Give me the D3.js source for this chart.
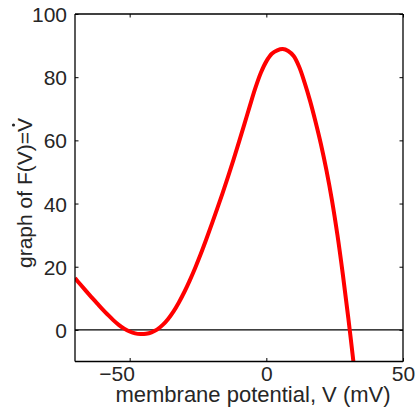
<!DOCTYPE html>
<html>
<head>
<meta charset="utf-8">
<script src="https://cdn.jsdelivr.net/npm/d3@7"></script>
<style>
  html, body { margin: 0; padding: 0; background: #fff; }
  svg { display: block; }
  text { font-family: "Liberation Sans", Arial, Helvetica, sans-serif; fill: #262626; }
</style>
</head>
<body>
<div id="chart"></div>
<script>
// ---- data ----
const voltage = [-70, -68, -66, -64, -62, -60, -58, -56, -54, -52, -50, -48, -46, -44, -42, -40,
  -38, -36, -34, -32, -30, -28, -26, -24, -22, -20, -18, -16, -14, -12, -10, -8, -6, -4, -2,
  0, 2, 4, 6, 8, 10, 12, 14, 16, 18, 20, 22, 24, 26, 28, 30, 32];
const fValue = [16.4, 14.35, 12.35, 10.4, 8.5, 6.6, 4.8, 3.1, 1.6, 0.4, -0.5, -1.1, -1.3, -1.2, -0.75, 0.1,
  1.5, 3.4, 5.8, 8.7, 12.0, 15.7, 19.7, 24.0, 28.6, 33.4, 38.3, 43.3, 48.5, 53.9, 59.5, 65.2, 71.0, 76.6, 81.4,
  85.0, 87.4, 88.5, 88.9, 88.3, 86.7, 83.3, 78.3, 72.5, 65.9, 58.7, 50.5, 41.1, 30.1, 17.5, 3.7, -11.1];
const xTicks = [-50, 0, 50];
const yTicks = [0, 20, 40, 60, 80, 100];
const xDomain = [-70, 50];
const yDomain = [-10, 100];
const xLabel = "membrane potential, V (mV)";
const yLabel = "graph of F(V)=V";

const W = 418, H = 408;
const m = { left: 75, top: 14, right: 15, bottom: 46.5 };

const svg = d3.select("#chart").append("svg").attr("width", W).attr("height", H);

const x = d3.scaleLinear().domain(xDomain).range([m.left, W - m.right]);
const y = d3.scaleLinear().domain(yDomain).range([H - m.bottom, m.top]);

svg.append("clipPath").attr("id", "clip")
  .append("rect")
  .attr("x", m.left).attr("y", m.top)
  .attr("width", W - m.left - m.right).attr("height", H - m.top - m.bottom);

// zero line
svg.append("line")
  .attr("x1", x(xDomain[0])).attr("x2", x(xDomain[1]))
  .attr("y1", y(0)).attr("y2", y(0))
  .attr("stroke", "#000").attr("stroke-width", 1.3);

// curve
const pts = voltage.map((v, i) => [v, fValue[i]]);
svg.append("path")
  .datum(pts)
  .attr("clip-path", "url(#clip)")
  .attr("fill", "none")
  .attr("stroke", "#ff0000")
  .attr("stroke-width", 4)
  .attr("stroke-linejoin", "round")
  .attr("d", d3.line().x(d => x(d[0])).y(d => y(d[1])).curve(d3.curveCatmullRom.alpha(0.5)));

// axes (inward ticks, mirrored box)
const tl = 3.5;
const fs = "21px";
const gB = svg.append("g").attr("transform", `translate(0,${y(yDomain[0])})`)
  .call(d3.axisBottom(x).tickValues(xTicks).tickSize(-tl).tickPadding(5).tickFormat(d3.format("d")));
const gT = svg.append("g").attr("transform", `translate(0,${y(yDomain[1])})`)
  .call(d3.axisTop(x).tickValues(xTicks).tickSize(-tl).tickFormat(""));
const gL = svg.append("g").attr("transform", `translate(${x(xDomain[0])},0)`)
  .call(d3.axisLeft(y).tickValues(yTicks).tickSize(-tl).tickPadding(8).tickFormat(d3.format("d")));
const gR = svg.append("g").attr("transform", `translate(${x(xDomain[1])},0)`)
  .call(d3.axisRight(y).tickValues(yTicks).tickSize(-tl).tickFormat(""));

[gB, gT, gL, gR].forEach(g => {
  g.selectAll(".domain").attr("stroke", "#000").attr("stroke-width", 1.3);
  g.selectAll(".tick line").attr("stroke", "#000").attr("stroke-width", 1);
  g.selectAll("text").style("font-size", fs).attr("fill", "#262626");
});
[gB, gT].forEach(g => g.select(".domain").attr("d", `M${x(xDomain[0])},0H${x(xDomain[1])}`));
[gL, gR].forEach(g => g.select(".domain").attr("d", `M0,${y(yDomain[0])}V${y(yDomain[1])}`));

gB.selectAll(".tick text").attr("dy", "0.71em")
  .attr("dx", d => d < 0 ? -13 : 0);
gL.selectAll(".tick text").attr("dy", "0.36em");

// x label
svg.append("text")
  .attr("x", 253).attr("y", 402)
  .attr("text-anchor", "middle")
  .style("font-size", "22px")
  .text(xLabel);

// y label (rotated) with dot over last V
const yl = svg.append("g").attr("transform", `translate(32,193) rotate(-90)`);
const yt = yl.append("text")
  .attr("x", 0).attr("y", 0)
  .attr("text-anchor", "middle")
  .style("font-size", fs)
  .text(yLabel);
const n = yLabel.length;
const total = yt.node().getComputedTextLength();
const lastStart = yt.node().getSubStringLength(0, n - 1);
const lastW = total - lastStart;
const cx = -total / 2 + lastStart + lastW / 2;
yl.append("circle").attr("cx", cx).attr("cy", -18.5).attr("r", 1.6).attr("fill", "#262626");
</script>
</body>
</html>
